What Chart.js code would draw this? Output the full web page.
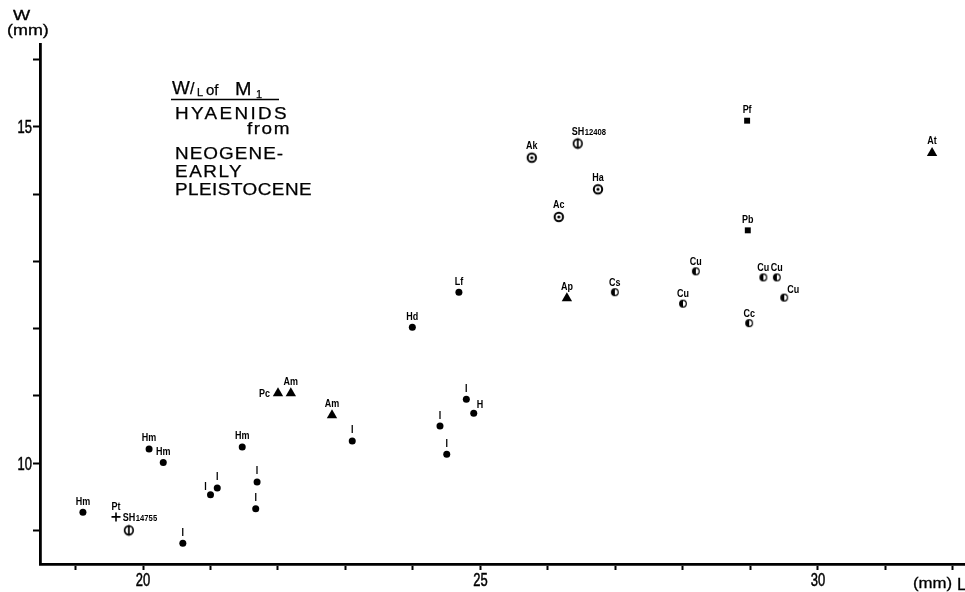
<!DOCTYPE html>
<html><head><meta charset="utf-8">
<script src="https://cdn.jsdelivr.net/npm/chart.js@4"></script>
<style>html,body{margin:0;padding:0;background:#fff;}canvas{display:block}</style>
</head><body>
<canvas id="c" width="965" height="592"></canvas>
<script>
// ---------- DATA (L = length of M1, W = width of M1, mm) ----------
const dotNames  = ['Hm','Hm','Hm','Hm','I','I','I','I','I','I','Hd','Lf','I','H','I','I'];
const dotL      = [19.11,20.09,20.30,21.47,20.59,21.00,21.10,21.69,21.67,23.10,23.99,24.68,24.79,24.90,24.40,24.50];
const dotW      = [9.27,10.21,10.01,10.24,8.81,9.53,9.63,9.72,9.32,10.33,12.02,12.54,10.95,10.74,10.55,10.13];
const dotPlace  = ['n','n','n','n','n','nw','n','n','n','n','n','n','n','ne','n','n'];

const triNames  = ['Pc','Am','Am','Ap','At'];
const triL      = [22.00,22.19,22.80,26.28,31.69];
const triW      = [11.04,11.04,10.71,12.45,14.61];
const triPlace  = ['w','n','n','n','n'];

const sqNames   = ['Pf','Pb'];
const sqL       = [28.95,28.96];
const sqW       = [15.09,13.46];
const sqPlace   = ['n','n'];

const crossNames = ['Pt'];
const crossL     = [19.60];
const crossW     = [9.20];
const crossPlace = ['n'];

const phiNames  = ['SH|14755','SH|12408'];
const phiL      = [19.79,26.44];
const phiW      = [9.00,14.75];
const phiPlace  = ['nr','nr'];

const eyeNames  = ['Ak','Ha','Ac'];
const eyeL      = [25.76,26.74,26.16];
const eyeW      = [14.54,14.07,13.66];
const eyePlace  = ['n','n','n'];

const halfNames = ['Cs','Cu','Cu','Cu','Cu','Cu','Cc'];
const halfL     = [26.99,28.00,28.19,29.19,29.39,29.50,28.98];
const halfW     = [12.54,12.37,12.85,12.76,12.76,12.46,12.08];
const halfPlace = ['n','n','n','n','n','ne','n'];

const xTickValues = [19,20,21,22,23,24,25,26,27,28,29,30,31,32];
const xTickLabels = [20,25,30];
const yTickValues = [9,10,11,12,13,14,15,16];
const yTickLabels = [10,15];

// ---------- marker images ----------
function mk(size, fn){const c=document.createElement('canvas');c.width=size;c.height=size;const g=c.getContext('2d');fn(g,size/2);return c;}
const eyeImg = mk(14,(g,m)=>{g.strokeStyle='#000';g.lineWidth=2;g.beginPath();g.arc(m,m,4.2,0,Math.PI*2);g.stroke();g.fillStyle='#000';g.beginPath();g.arc(m,m,1.6,0,Math.PI*2);g.fill();});
const phiImg = mk(14,(g,m)=>{g.strokeStyle='#000';g.lineWidth=1.7;g.beginPath();g.arc(m,m,4.3,0,Math.PI*2);g.stroke();g.beginPath();g.moveTo(m,m-5.3);g.lineTo(m,m+5.3);g.stroke();});
const halfImg = mk(10,(g,m)=>{g.fillStyle='#000';g.beginPath();g.arc(m,m,3.3,Math.PI/2,Math.PI*1.5);g.closePath();g.fill();g.strokeStyle='#000';g.lineWidth=1.2;g.beginPath();g.arc(m,m,3.3,0,Math.PI*2);g.stroke();});

const pts = (L,W)=>L.map((l,i)=>({x:l,y:W[i]}));

// ---------- text helper ----------
const FONT = '"Liberation Sans", Arial, sans-serif';
function sText(ctx, txt, x, y, align, size, sx, weight, spacing, stroke){
  ctx.save();
  ctx.font = (weight||'normal')+' '+size+'px '+FONT;
  ctx.letterSpacing = (spacing||0)+'px';
  let w = ctx.measureText(txt).width;
  if (spacing) w -= spacing;
  w *= sx;
  const left = align==='left'?x:(align==='right'?x-w:x-w/2);
  ctx.translate(left,y); ctx.scale(sx,1);
  ctx.textAlign='left'; ctx.textBaseline='alphabetic';
  ctx.fillStyle='#000';
  ctx.fillText(txt,0,0);
  if (stroke){ctx.strokeStyle='#000'; ctx.lineWidth=stroke; ctx.strokeText(txt,0,0);}
  ctx.restore();
  return w;
}

// ---------- point labels ----------
const LS = 11.5, LSX = 0.78;
const labelPlugin = {
  id:'ptLabels',
  afterDatasetsDraw(chart){
    const ctx = chart.ctx;
    chart.data.datasets.forEach((ds,di)=>{
      const meta = chart.getDatasetMeta(di);
      meta.data.forEach((el,i)=>{
        const name = ds.names[i], pl = ds.place[i];
        const px = el.x, py = el.y, lift = ds.lift;
        if (pl==='nr'){
          const parts = name.split('|');
          const w1 = sText(ctx, parts[0], px-6, py-lift-1, 'left', 11, 0.82, 'bold');
          sText(ctx, parts[1], px-6+w1+0.5, py-lift-1, 'left', 9, 0.85, 'bold');
        } else if (pl==='w'){
          sText(ctx, name, px-8, py+4, 'right', LS, LSX, 'bold');
        } else if (pl==='nw'){
          sText(ctx, name, px-5, py-4.5, 'center', LS, LSX, 'bold');
        } else if (pl==='ne'){
          sText(ctx, name, px+3, py-5, 'left', LS, LSX, 'bold');
        } else {
          sText(ctx, name, px, py-lift, 'center', LS, LSX, 'bold');
        }
      });
    });
  }
};

// ---------- tick labels, axis titles, title block ----------
const textPlugin = {
  id:'texts',
  afterDraw(chart){
    const ctx = chart.ctx;
    const xs = chart.scales.x, ys = chart.scales.y;
    xTickLabels.forEach(v=>sText(ctx, String(v), xs.getPixelForValue(v), 586, 'center', 17.5, 0.74, 'normal', 0, 0.5));
    yTickLabels.forEach(v=>sText(ctx, String(v), 32, ys.getPixelForValue(v)+6.5, 'right', 17.5, 0.74, 'normal', 0, 0.5));
    // axis titles
    sText(ctx,'W',13,20,'left',14,1.3,'normal',0,0.3);
    sText(ctx,'(mm)',7,35,'left',14,1.28,'normal',0,0.3);
    sText(ctx,'(mm)',913,588,'left',14,1.2,'normal',0,0.3);
    sText(ctx,'L',957,590,'left',17,1.0,'normal',0,0.3);
    // title block
    const T = 0.25;
    sText(ctx,'W',172,94,'left',18,1.05,'normal',0,T);
    sText(ctx,'/',190,94,'left',16,1.0,'normal',0,T);
    sText(ctx,'L',197,96,'left',10,1.1,'normal',0,T);
    sText(ctx,'of',206,95,'left',15,1.0,'normal',0,T);
    sText(ctx,'M',235,95,'left',18,1.1,'normal',0,T);
    sText(ctx,'1',256,98,'left',11,1.0,'normal',0,T);
    ctx.save();
    ctx.lineWidth=1.7; ctx.strokeStyle='#000';
    ctx.beginPath(); ctx.moveTo(171,99.5); ctx.lineTo(279,99.5); ctx.stroke();
    ctx.restore();
    sText(ctx,'HYAENIDS',175,119,'left',16,1.18,'normal',2.0,T);
    sText(ctx,'from',247,133.5,'left',16,1.18,'normal',1.3,T);
    sText(ctx,'NEOGENE-',175,159,'left',16,1.18,'normal',0.9,T);
    sText(ctx,'EARLY',175,177,'left',16,1.18,'normal',1.3,T);
    sText(ctx,'PLEISTOCENE',175,195,'left',16,1.18,'normal',0.4,T);
  }
};

new Chart(document.getElementById('c'), {
  type:'scatter',
  data:{datasets:[
    {names:dotNames, place:dotPlace, lift:7.5, data:pts(dotL,dotW), pointStyle:'circle', pointRadius:3.5, backgroundColor:'#000', borderColor:'#000', borderWidth:0},
    {names:triNames, place:triPlace, lift:8.5, data:pts(triL,triW), pointStyle:'triangle', pointRadius:6, backgroundColor:'#000', borderColor:'#000', borderWidth:0},
    {names:sqNames, place:sqPlace, lift:7.5, data:pts(sqL,sqW), pointStyle:'rect', pointRadius:4.2, backgroundColor:'#000', borderColor:'#000', borderWidth:0},
    {names:crossNames, place:crossPlace, lift:7, data:pts(crossL,crossW), pointStyle:'cross', pointRadius:4.5, backgroundColor:'#000', borderColor:'#000', borderWidth:1.6},
    {names:phiNames, place:phiPlace, lift:8, data:pts(phiL,phiW), pointStyle:phiImg, pointRadius:5},
    {names:eyeNames, place:eyePlace, lift:8.5, data:pts(eyeL,eyeW), pointStyle:eyeImg, pointRadius:5},
    {names:halfNames, place:halfPlace, lift:6.5, data:pts(halfL,halfW), pointStyle:halfImg, pointRadius:4}
  ]},
  options:{
    responsive:false, animation:false, devicePixelRatio:1,
    layout:{autoPadding:false, padding:{top:44,left:0,right:0,bottom:0}},
    plugins:{legend:{display:false}, tooltip:{enabled:false}, title:{display:false}},
    scales:{
      x:{type:'linear', min:18.474, max:32.178,
        afterFit(s){s.height=28; s.paddingLeft=0; s.paddingRight=0;},
        afterBuildTicks(s){s.ticks=xTickValues.map(v=>({value:v}));},
        ticks:{autoSkip:false, maxRotation:0, minRotation:0, padding:2, color:'#000', callback:()=>''},
        grid:{drawOnChartArea:false, drawTicks:true, tickLength:6, tickWidth:2, color:'#000', tickColor:'#000'},
        border:{display:true, color:'#000', width:2.8}
      },
      y:{type:'linear', min:8.50, max:16.23,
        afterFit(s){s.width=40; s.paddingTop=0; s.paddingBottom=0;},
        afterBuildTicks(s){s.ticks=yTickValues.map(v=>({value:v}));},
        ticks:{autoSkip:false, padding:1, color:'#000', callback:()=>''},
        grid:{drawOnChartArea:false, drawTicks:true, tickLength:7, tickWidth:2, color:'#000', tickColor:'#000'},
        border:{display:true, color:'#000', width:2.8}
      }
    }
  },
  plugins:[labelPlugin, textPlugin]
});
</script>
</body></html>
